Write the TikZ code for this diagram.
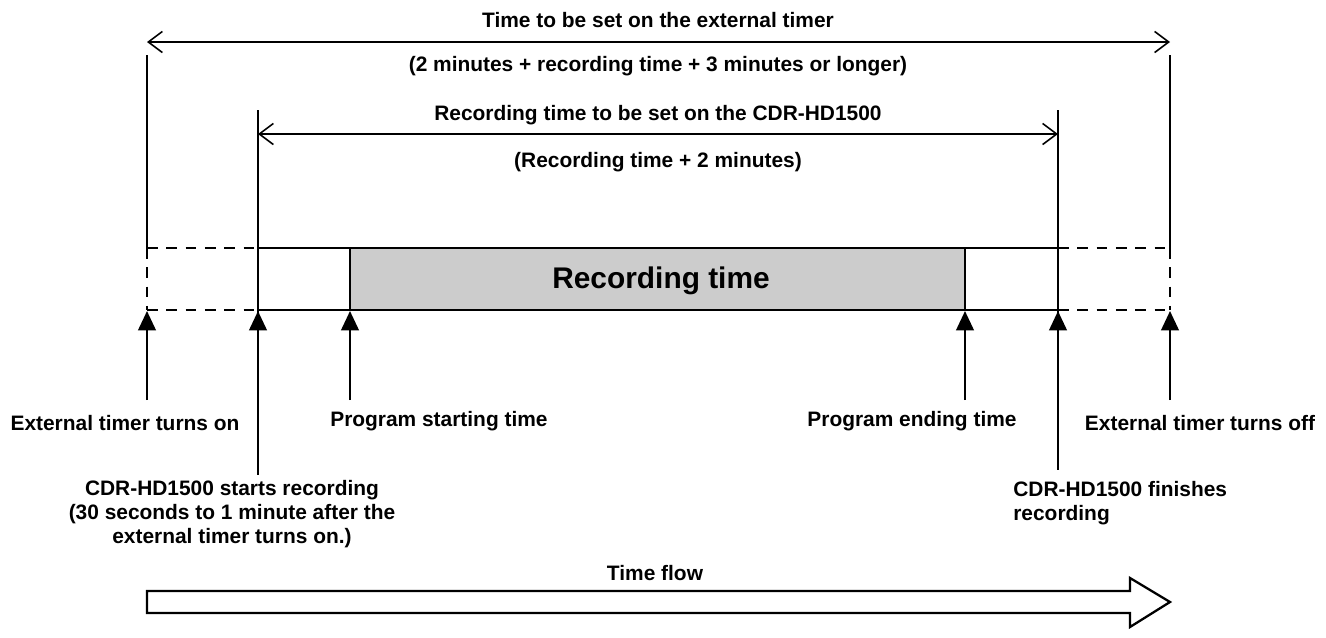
\documentclass[tikz,border=0pt]{standalone}
\usepackage{fontspec}
\setmainfont{Liberation Sans}
\usetikzlibrary{arrows.meta}
\begin{document}
\begin{tikzpicture}[x=0.02cm,y=-0.02cm,
 lab/.style={font=\fontsize{11.9}{13.7}\selectfont\bfseries,inner sep=0pt},
 dim/.style={line width=0.9pt,{Straight Barb[length=8pt,width=12pt]}-{Straight Barb[length=8pt,width=12pt]}},
 up/.style={line width=1.3pt,-{Triangle[length=11pt,width=10pt]}},
 solid bar/.style={line width=1.3pt},
 dash bar/.style={line width=1.3pt,dash pattern=on 6pt off 5pt}]
\useasboundingbox (0,0) rectangle (1326,637);
% outer dimension
\draw[line width=0.9pt] (147,55) -- (147,248);
\draw[line width=0.9pt] (1170,55) -- (1170,248);
\draw[dim] (147,42) -- (1170,42);
\node[lab] (t1) at (658,20) {Time to be set on the external timer};
\node[lab] (t2) at (658,66) {(2 minutes + recording time + 3 minutes or longer)};
% inner dimension
\draw[line width=0.6pt] (258,110) -- (258,475);
\draw[line width=0.6pt] (1058,110) -- (1058,470);
\draw[dim] (258,134) -- (1058,134);
\node[lab] (t3) at (658,115) {Recording time to be set on the CDR-HD1500};
\node[lab] (t4) at (658,162) {(Recording time + 2 minutes)};
% bar
\fill[gray!40] (350,248) rectangle (965,310);
\draw[solid bar] (258,248) rectangle (1058,310);
\draw[solid bar] (350,248) -- (350,310) (965,248) -- (965,310);
\draw[dash bar] (147,248) -- (258,248) (147,310) -- (258,310) (147,248) -- (147,310);
\draw[dash bar] (1058,248) -- (1170,248) (1058,310) -- (1170,310) (1170,248) -- (1170,310);
\node[font=\fontsize{17}{20}\selectfont\bfseries] (rt) at (661,281) {Recording time};
% arrows
\foreach \x in {147,258,350,965,1058,1170} \draw[up] (\x,400) -- (\x,311);
\node[lab] (a1) at (125,423) {External timer turns on};
\node[lab,anchor=west] (a2) at (330,421) {Program starting time};
\node[lab] (a3) at (912,421) {Program ending time};
\node[lab] (a4) at (1200,423) {External timer turns off};
\node[lab,align=center] (a5) at (232,514) {CDR-HD1500 starts recording\\(30 seconds to 1 minute after the\\external timer turns on.)};
\node[lab,align=left,anchor=north west] (a6) at (1013,481) {CDR-HD1500 finishes\\recording};
% time flow
\node[lab] (tf) at (655,573) {Time flow};
\draw[line width=1.3pt] (147,591) -- (1130,591) -- (1130,578) -- (1170,602) -- (1130,627) -- (1130,613) -- (147,613) -- cycle;
\end{tikzpicture}
\end{document}
